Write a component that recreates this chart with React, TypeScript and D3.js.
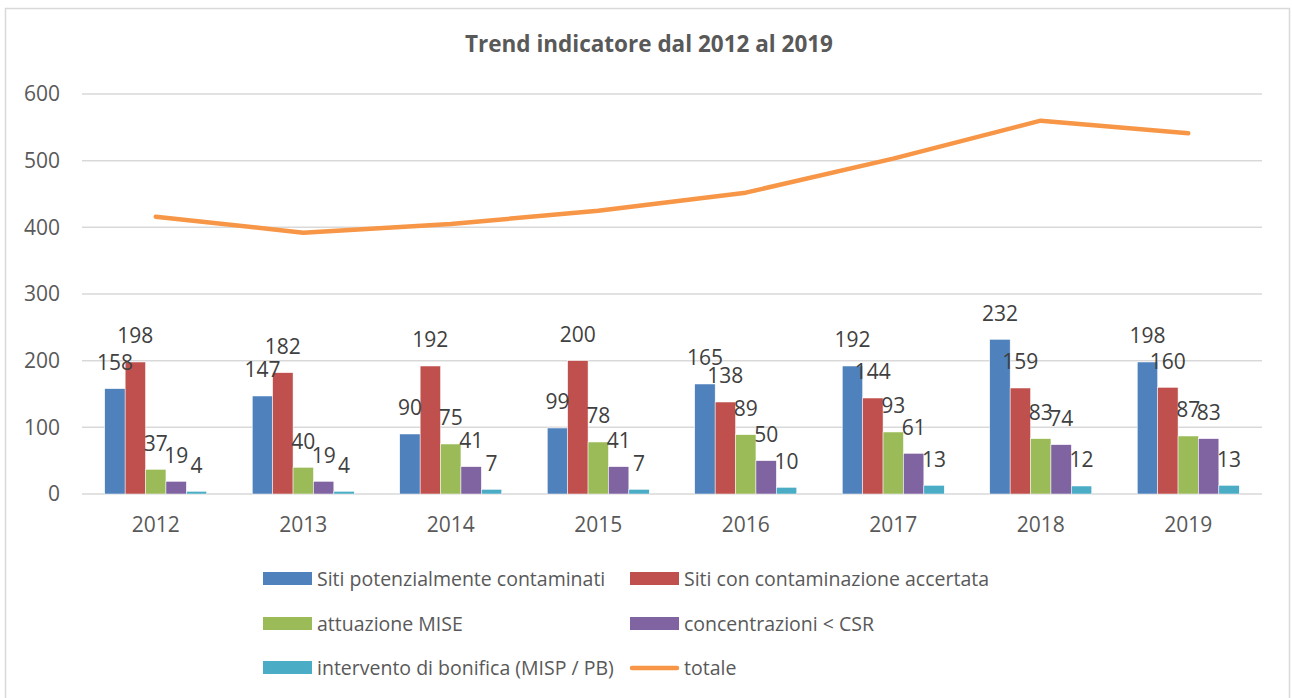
import React from "react";
import * as d3 from "d3";

const years = ["2012", "2013", "2014", "2015", "2016", "2017", "2018", "2019"];
const sitiPotenziali = [158, 147, 90, 99, 165, 192, 232, 198];
const sitiAccertati = [198, 182, 192, 200, 138, 144, 159, 160];
const attuazioneMise = [37, 40, 75, 78, 89, 93, 83, 87];
const concentrazioni = [19, 19, 41, 41, 50, 61, 74, 83];
const interventoBonifica = [4, 4, 7, 7, 10, 13, 12, 13];
const totale = [416, 392, 405, 425, 452, 503, 560, 541];
const yTicks = [0, 100, 200, 300, 400, 500, 600];

const barSeries = [
  { name: "Siti potenzialmente contaminati", values: sitiPotenziali, color: "#4f81bd" },
  { name: "Siti con contaminazione accertata", values: sitiAccertati, color: "#c0504d" },
  { name: "attuazione MISE", values: attuazioneMise, color: "#9bbb59" },
  { name: "concentrazioni < CSR", values: concentrazioni, color: "#8064a2" },
  { name: "intervento di bonifica (MISP / PB)", values: interventoBonifica, color: "#4bacc6" },
];
const lineName = "totale";
const lineColor = "#f79646";

const FONT = "'Open Sans', Lato, sans-serif";
const TEXT = "#595959";
const LABEL = "#404040";
const FS = 21;
const LEGEND_FS = 19.5;

export default function App() {
  const W = 1292;
  const H = 698;
  const left = 82;
  const right = 1262;
  const top = 94;
  const bottom = 494;

  const x = d3.scaleBand<string>().domain(years).range([left, right]).paddingInner(0).paddingOuter(0);
  const y = d3.scaleLinear().domain([0, 600]).range([bottom, top]);
  const barW = 20.4;
  const groupW = barW * barSeries.length;

  const line = d3
    .line<number>()
    .x((_, i) => (x(years[i]) as number) + x.bandwidth() / 2)
    .y((d) => y(d));

  const legendRows = [
    [
      { name: barSeries[0].name, color: barSeries[0].color, kind: "bar" },
      { name: barSeries[1].name, color: barSeries[1].color, kind: "bar" },
    ],
    [
      { name: barSeries[2].name, color: barSeries[2].color, kind: "bar" },
      { name: barSeries[3].name, color: barSeries[3].color, kind: "bar" },
    ],
    [
      { name: barSeries[4].name, color: barSeries[4].color, kind: "bar" },
      { name: lineName, color: lineColor, kind: "line" },
    ],
  ];
  const legendX = [263, 630];
  const legendY = [579, 624, 668];

  return (
    <div style={{ position: "fixed", left: 0, top: 0 }}>
      <svg width={W} height={H} style={{ display: "block", background: "#fff" }}>
        <rect x={5.5} y={8.5} width={1284} height={700} fill="#fff" stroke="#d9d9d9" strokeWidth={1.5} />
        <text x={649} y={52} textAnchor="middle" fontFamily={FONT} fontSize={22.5} fontWeight="bold" fill={TEXT}>
          Trend indicatore dal 2012 al 2019
        </text>
        {yTicks.map((t) => (
          <g key={t}>
            <line x1={left} x2={right} y1={y(t)} y2={y(t)} stroke="#d9d9d9" strokeWidth={1.5} />
            <text x={60} y={y(t)} dy="0.35em" textAnchor="end" fontFamily={FONT} fontSize={FS} fill={TEXT}>
              {t}
            </text>
          </g>
        ))}
        {years.map((yr) => (
          <text
            key={yr}
            x={(x(yr) as number) + x.bandwidth() / 2}
            y={525}
            dy="0.35em"
            textAnchor="middle"
            fontFamily={FONT}
            fontSize={FS}
            fill={TEXT}
          >
            {yr}
          </text>
        ))}
        {barSeries.map((s, si) =>
          s.values.map((v, i) => {
            const cx = (x(years[i]) as number) + x.bandwidth() / 2 - groupW / 2 + si * barW;
            return (
              <rect key={s.name + i} x={cx} y={y(v)} width={barW} height={bottom - y(v)} fill={s.color} stroke="#fff" strokeWidth={0.5} />
            );
          })
        )}
        <path d={line(totale) || ""} fill="none" stroke={lineColor} strokeWidth={4.5} strokeLinecap="round" strokeLinejoin="round" />
        {barSeries.map((s, si) =>
          s.values.map((v, i) => {
            const cx = (x(years[i]) as number) + x.bandwidth() / 2 - groupW / 2 + si * barW + barW / 2;
            return (
              <text key={"l" + s.name + i} x={cx} y={y(v) - 26} dy="0.35em" textAnchor="middle" fontFamily={FONT} fontSize={FS} fill={LABEL}>
                {v}
              </text>
            );
          })
        )}
        {legendRows.map((row, ri) =>
          row.map((item, ci) => (
            <g key={item.name}>
              {item.kind === "bar" ? (
                <rect x={legendX[ci]} y={legendY[ri] - 7} width={49} height={13} fill={item.color} />
              ) : (
                <line x1={legendX[ci] + 2} x2={legendX[ci] + 47} y1={legendY[ri]} y2={legendY[ri]} stroke={item.color} strokeWidth={4.5} strokeLinecap="round" />
              )}
              <text x={legendX[ci] + 54} y={legendY[ri]} dy="0.35em" fontFamily={FONT} fontSize={LEGEND_FS} fill={TEXT}>
                {item.name}
              </text>
            </g>
          ))
        )}
      </svg>
    </div>
  );
}
